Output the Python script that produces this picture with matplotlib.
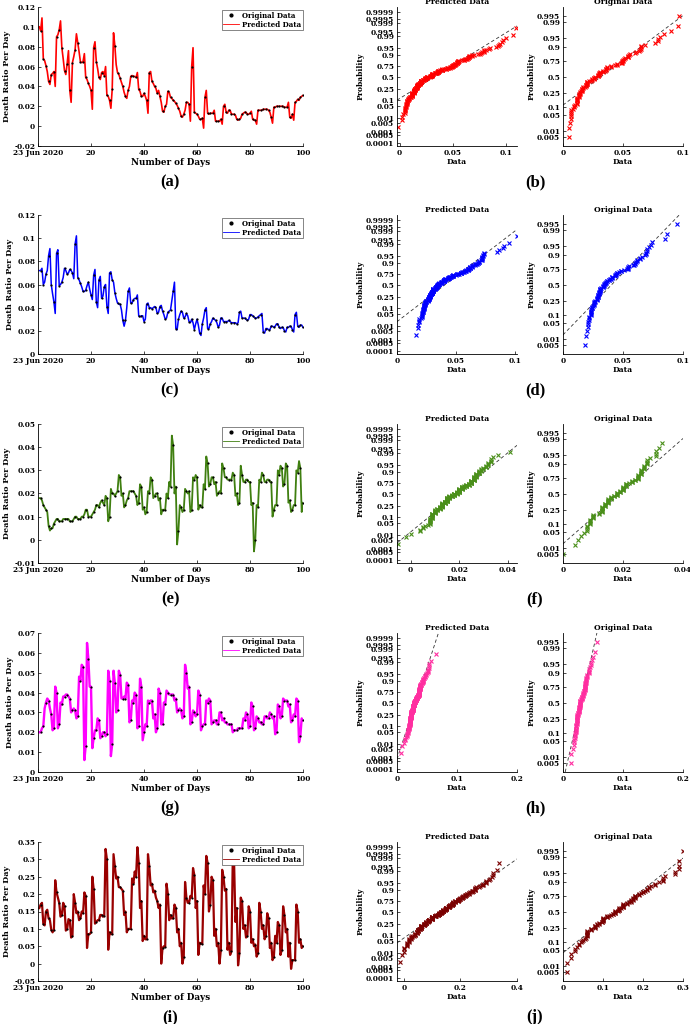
import numpy as np
import matplotlib
matplotlib.use("Agg")
import matplotlib.pyplot as plt
from matplotlib.lines import Line2D
from statistics import NormalDist

days = np.arange(1, 101)

# death ratio per day, original data (one value per day)
orig_a = [0.096, 0.068, 0.061, 0.045, 0.052, 0.055, 0.090, 0.097, 0.079, 0.056,
          0.063, 0.036, 0.064, 0.077, 0.084, 0.065, 0.065, 0.049, 0.043, 0.036,
          0.079, 0.065, 0.049, 0.054, 0.051, 0.031, 0.026, 0.037, 0.081, 0.054,
          0.048, 0.040, 0.030, 0.036, 0.050, 0.050, 0.049, 0.037, 0.030, 0.033,
          0.026, 0.054, 0.045, 0.040, 0.033, 0.030, 0.015, 0.020, 0.035, 0.029,
          0.026, 0.023, 0.018, 0.010, 0.012, 0.024, 0.022, 0.060, 0.014, 0.012,
          0.007, 0.008, 0.029, 0.013, 0.013, 0.013, 0.005, 0.005, 0.007, 0.020,
          0.014, 0.016, 0.012, 0.012, 0.007, 0.007, 0.012, 0.014, 0.012, 0.013,
          0.007, 0.006, 0.016, 0.016, 0.017, 0.017, 0.016, 0.009, 0.019, 0.020,
          0.020, 0.020, 0.019, 0.019, 0.009, 0.012, 0.024, 0.027, 0.029, 0.031]
# predicted data between the days (x = 0.5, 1.5, ..., 99.5)
mid_a = [0.100, 0.109, 0.066, 0.055, 0.042, 0.053, 0.040, 0.092, 0.106, 0.068,
         0.052, 0.076, 0.024, 0.070, 0.093, 0.075, 0.064, 0.073, 0.047, 0.040,
         0.017, 0.085, 0.058, 0.047, 0.055, 0.060, 0.030, 0.018, 0.094, 0.062,
         0.052, 0.044, 0.034, 0.028, 0.040, 0.051, 0.050, 0.054, 0.035, 0.030,
         0.030, 0.013, 0.055, 0.043, 0.038, 0.036, 0.024, 0.014, 0.022, 0.034,
         0.028, 0.025, 0.021, 0.015, 0.009, 0.016, 0.024, 0.005, 0.079, 0.013,
         0.010, 0.007, -0.002, 0.036, 0.012, 0.013, 0.016, 0.005, 0.005, 0.002,
         0.022, 0.013, 0.016, 0.012, 0.011, 0.006, 0.008, 0.013, 0.014, 0.012,
         0.015, 0.006, 0.002, 0.016, 0.016, 0.017, 0.017, 0.014, 0.003, 0.019,
         0.020, 0.020, 0.020, 0.019, 0.024, 0.008, 0.006, 0.025, 0.026, 0.030]

orig_c = [0.072, 0.060, 0.069, 0.085, 0.060, 0.045, 0.087, 0.059, 0.062, 0.074,
          0.069, 0.073, 0.070, 0.095, 0.066, 0.061, 0.054, 0.055, 0.062, 0.051,
          0.068, 0.045, 0.064, 0.048, 0.058, 0.041, 0.070, 0.064, 0.053, 0.044,
          0.043, 0.029, 0.029, 0.054, 0.044, 0.047, 0.048, 0.033, 0.033, 0.028,
          0.043, 0.040, 0.039, 0.041, 0.035, 0.041, 0.037, 0.030, 0.036, 0.038,
          0.054, 0.022, 0.030, 0.037, 0.031, 0.035, 0.028, 0.030, 0.021, 0.030,
          0.018, 0.026, 0.038, 0.022, 0.026, 0.031, 0.029, 0.023, 0.031, 0.028,
          0.028, 0.029, 0.027, 0.027, 0.026, 0.036, 0.031, 0.031, 0.029, 0.034,
          0.033, 0.031, 0.032, 0.034, 0.019, 0.022, 0.021, 0.024, 0.023, 0.026,
          0.023, 0.023, 0.020, 0.023, 0.024, 0.021, 0.034, 0.024, 0.025, 0.023]
mid_c = [0.072, 0.074, 0.062, 0.072, 0.091, 0.052, 0.035, 0.090, 0.060, 0.066,
         0.072, 0.070, 0.072, 0.065, 0.102, 0.064, 0.058, 0.054, 0.059, 0.056,
         0.047, 0.073, 0.040, 0.067, 0.050, 0.060, 0.035, 0.071, 0.062, 0.048,
         0.043, 0.038, 0.024, 0.040, 0.057, 0.044, 0.048, 0.051, 0.032, 0.033,
         0.030, 0.044, 0.040, 0.040, 0.040, 0.036, 0.042, 0.034, 0.031, 0.037,
         0.046, 0.062, 0.021, 0.034, 0.036, 0.032, 0.033, 0.027, 0.027, 0.026,
         0.025, 0.016, 0.031, 0.040, 0.022, 0.028, 0.030, 0.027, 0.025, 0.031,
         0.028, 0.028, 0.028, 0.027, 0.027, 0.027, 0.037, 0.031, 0.030, 0.030,
         0.034, 0.032, 0.031, 0.033, 0.035, 0.018, 0.022, 0.021, 0.024, 0.024,
         0.026, 0.022, 0.023, 0.019, 0.023, 0.024, 0.019, 0.036, 0.023, 0.025]

orig_e = [0.018, 0.015, 0.013, 0.006, 0.005, 0.007, 0.009, 0.008, 0.008, 0.009,
          0.009, 0.008, 0.008, 0.010, 0.009, 0.009, 0.010, 0.013, 0.010, 0.010,
          0.012, 0.015, 0.014, 0.017, 0.015, 0.018, 0.010, 0.020, 0.019, 0.021,
          0.027, 0.020, 0.015, 0.018, 0.021, 0.021, 0.019, 0.016, 0.023, 0.014,
          0.012, 0.020, 0.026, 0.019, 0.020, 0.018, 0.013, 0.013, 0.018, 0.023,
          0.041, 0.023, 0.004, 0.014, 0.013, 0.021, 0.021, 0.013, 0.026, 0.027,
          0.015, 0.014, 0.022, 0.033, 0.024, 0.027, 0.025, 0.020, 0.020, 0.031,
          0.027, 0.026, 0.026, 0.028, 0.020, 0.016, 0.028, 0.025, 0.026, 0.025,
          0.016, 0.000, 0.014, 0.025, 0.028, 0.025, 0.026, 0.025, 0.013, 0.015,
          0.028, 0.031, 0.024, 0.032, 0.017, 0.013, 0.015, 0.029, 0.031, 0.016]
mid_e = [0.018, 0.017, 0.014, 0.012, 0.004, 0.005, 0.008, 0.009, 0.008, 0.009,
         0.009, 0.009, 0.008, 0.009, 0.010, 0.009, 0.010, 0.011, 0.013, 0.010,
         0.011, 0.013, 0.015, 0.016, 0.016, 0.019, 0.008, 0.022, 0.020, 0.020,
         0.028, 0.019, 0.014, 0.017, 0.021, 0.021, 0.020, 0.015, 0.024, 0.013,
         0.011, 0.021, 0.027, 0.018, 0.020, 0.017, 0.011, 0.013, 0.020, 0.025,
         0.045, 0.020, -0.002, 0.015, 0.012, 0.022, 0.020, 0.012, 0.027, 0.028,
         0.013, 0.014, 0.024, 0.036, 0.023, 0.027, 0.024, 0.019, 0.021, 0.033,
         0.027, 0.026, 0.026, 0.029, 0.019, 0.015, 0.032, 0.025, 0.026, 0.025,
         0.015, -0.005, 0.015, 0.026, 0.029, 0.025, 0.026, 0.025, 0.010, 0.015,
         0.030, 0.032, 0.023, 0.033, 0.016, 0.012, 0.015, 0.030, 0.034, 0.012]

orig_g = [0.020, 0.023, 0.035, 0.036, 0.029, 0.022, 0.040, 0.024, 0.034, 0.038,
          0.039, 0.037, 0.031, 0.031, 0.028, 0.046, 0.053, 0.013, 0.057, 0.043,
          0.017, 0.021, 0.026, 0.018, 0.020, 0.019, 0.046, 0.014, 0.045, 0.031,
          0.049, 0.037, 0.037, 0.044, 0.026, 0.035, 0.039, 0.023, 0.043, 0.020,
          0.023, 0.035, 0.036, 0.029, 0.022, 0.040, 0.024, 0.034, 0.040, 0.039,
          0.039, 0.037, 0.031, 0.031, 0.028, 0.050, 0.043, 0.025, 0.030, 0.029,
          0.039, 0.023, 0.024, 0.035, 0.036, 0.025, 0.026, 0.024, 0.030, 0.027,
          0.025, 0.024, 0.024, 0.021, 0.021, 0.022, 0.022, 0.026, 0.029, 0.023,
          0.033, 0.022, 0.027, 0.025, 0.024, 0.028, 0.027, 0.029, 0.028, 0.020,
          0.033, 0.028, 0.036, 0.036, 0.034, 0.026, 0.028, 0.036, 0.018, 0.026]
mid_g = [0.020, 0.022, 0.032, 0.037, 0.032, 0.021, 0.043, 0.022, 0.035, 0.038,
         0.039, 0.038, 0.030, 0.032, 0.027, 0.048, 0.054, 0.006, 0.065, 0.043,
         0.012, 0.021, 0.027, 0.017, 0.020, 0.018, 0.051, 0.008, 0.051, 0.030,
         0.051, 0.037, 0.038, 0.045, 0.025, 0.036, 0.040, 0.022, 0.047, 0.016,
         0.024, 0.036, 0.036, 0.027, 0.020, 0.042, 0.024, 0.035, 0.041, 0.039,
         0.039, 0.036, 0.030, 0.032, 0.027, 0.054, 0.042, 0.024, 0.031, 0.028,
         0.041, 0.021, 0.024, 0.036, 0.037, 0.024, 0.026, 0.024, 0.030, 0.026,
         0.025, 0.024, 0.024, 0.020, 0.021, 0.022, 0.022, 0.027, 0.030, 0.022,
         0.035, 0.021, 0.028, 0.025, 0.024, 0.028, 0.027, 0.030, 0.027, 0.019,
         0.034, 0.027, 0.037, 0.036, 0.033, 0.025, 0.029, 0.037, 0.015, 0.027]

orig_i = [0.170, 0.115, 0.150, 0.130, 0.098, 0.098, 0.205, 0.175, 0.140, 0.165,
          0.100, 0.125, 0.080, 0.175, 0.150, 0.130, 0.145, 0.195, 0.085, 0.090,
          0.215, 0.120, 0.125, 0.140, 0.138, 0.300, 0.090, 0.085, 0.280, 0.250,
          0.220, 0.210, 0.150, 0.100, 0.100, 0.230, 0.250, 0.290, 0.180, 0.080,
          0.070, 0.280, 0.230, 0.210, 0.180, 0.170, 0.045, 0.048, 0.200, 0.140,
          0.130, 0.160, 0.100, 0.060, 0.020, 0.190, 0.175, 0.190, 0.255, 0.180,
          0.060, 0.057, 0.200, 0.290, 0.170, 0.240, 0.100, 0.060, 0.040, 0.250,
          0.215, 0.060, 0.035, 0.290, 0.160, 0.030, 0.180, 0.110, 0.080, 0.150,
          0.070, 0.055, 0.030, 0.150, 0.110, 0.080, 0.130, 0.060, 0.020, 0.060,
          0.110, 0.040, 0.140, 0.100, 0.060, 0.010, 0.010, 0.150, 0.070, 0.050]
mid_i = [0.160, 0.175, 0.110, 0.155, 0.125, 0.090, 0.240, 0.190, 0.135, 0.175,
         0.095, 0.128, 0.075, 0.200, 0.145, 0.125, 0.150, 0.205, 0.045, 0.085,
         0.250, 0.115, 0.125, 0.140, 0.135, 0.330, 0.040, 0.085, 0.315, 0.245,
         0.220, 0.215, 0.140, 0.090, 0.100, 0.245, 0.265, 0.335, 0.160, 0.065,
         0.070, 0.315, 0.225, 0.205, 0.190, 0.160, 0.000, 0.050, 0.230, 0.125,
         0.130, 0.170, 0.090, 0.050, 0.000, 0.235, 0.175, 0.195, 0.275, 0.160,
         0.025, 0.057, 0.225, 0.310, 0.150, 0.250, 0.080, 0.050, 0.000, 0.270,
         0.210, 0.040, 0.025, 0.305, 0.120, -0.005, 0.190, 0.100, 0.075, 0.165,
         0.060, 0.050, 0.020, 0.175, 0.100, 0.070, 0.145, 0.045, 0.010, 0.080,
         0.120, 0.025, 0.165, 0.090, 0.020, -0.015, 0.010, 0.170, 0.060, 0.045]

line_colors = ['#ff0000', '#0000ff', '#3f7f10', '#ff00ff', '#990000']
line_widths = [1.2, 1.1, 1.3, 1.7, 1.6]
prob_colors = ['#ff0000', '#0000ff', '#4a8f1a', '#ff2ea0', '#7a0000']
left_ylims = [(-0.02, 0.12), (0, 0.12), (-0.01, 0.05), (0, 0.07), (-0.05, 0.35)]
left_ysteps = [0.02, 0.02, 0.01, 0.01, 0.05]
pred_xlims = [(-0.0025, 0.110), (0, 0.102), (-0.0056, 0.0438), (0, 0.2), (-0.024, 0.4)]
pred_xticks = [[0, 0.05, 0.1], [0, 0.05, 0.1], [0, 0.02, 0.04], [0, 0.1, 0.2], [0, 0.2, 0.4]]
orig_xlims = [(0, 0.1), (0, 0.1), (0, 0.04), (0, 0.2), (0, 0.3)]
orig_xticks = [[0, 0.05, 0.1], [0, 0.05, 0.1], [0, 0.02, 0.04], [0, 0.1, 0.2], [0, 0.1, 0.2, 0.3]]
panel_left = ['(a)', '(c)', '(e)', '(g)', '(i)']
panel_right = ['(b)', '(d)', '(f)', '(h)', '(j)']

pred_probs = ['0.0001', '0.0005', '0.001', '0.005', '0.01', '0.05', '0.1', '0.25', '0.5',
              '0.75', '0.9', '0.95', '0.99', '0.995', '0.999', '0.9995', '0.9999']
orig_probs = ['0.005', '0.01', '0.05', '0.1', '0.25', '0.5', '0.75', '0.9', '0.95', '0.99', '0.995']

series = [(orig_a, mid_a), (orig_c, mid_c), (orig_e, mid_e), (orig_g, mid_g), (orig_i, mid_i)]

nd = NormalDist()
tfont = dict(family='DejaVu Serif', weight='bold', size=5.3)


def fmt(v):
    v = round(v, 6)
    return '0' if v == 0 else f'{v:g}'


def predicted(orig, mid):
    x = np.empty(200)
    y = np.empty(200)
    x[0::2] = days - 0.5
    x[1::2] = days
    y[0::2] = mid
    y[1::2] = orig
    return x, y


def style(ax):
    ax.spines['top'].set_visible(False)
    ax.spines['right'].set_visible(False)
    ax.tick_params(direction='in', length=2, width=0.5, pad=2)
    for s in ax.spines.values():
        s.set_linewidth(0.6)
    for lab in ax.get_xticklabels() + ax.get_yticklabels():
        lab.set_fontproperties(tfont)


def normplot(ax, data, color, probs, ylim, xlim, xticks, title):
    d = np.sort(np.asarray(data))
    n = len(d)
    z = [nd.inv_cdf((k - 0.5) / n) for k in range(1, n + 1)]
    q1, q3 = np.percentile(d, [25, 75])
    ax.axline((q1, nd.inv_cdf(0.25)), (q3, nd.inv_cdf(0.75)), color='#333333',
              ls=(0, (4, 3)), lw=0.6)
    ax.plot(d, z, 'x', color=color, ms=2.6, mew=0.8)
    ax.set_xlim(*xlim)
    ax.set_ylim(*ylim)
    ax.set_xticks(xticks)
    ax.set_xticklabels([fmt(t) for t in xticks])
    ax.set_yticks([nd.inv_cdf(float(p)) for p in probs])
    ax.set_yticklabels(probs)
    ax.set_title(title, fontdict=dict(family='DejaVu Serif', weight='bold', size=5.5), pad=2)
    ax.set_xlabel('Data', family='DejaVu Serif', weight='bold', size=5.5, labelpad=1)
    ax.set_ylabel('Probability', family='DejaVu Serif', weight='bold', size=5.5, labelpad=1)
    style(ax)


W, H = 690, 1024
fig = plt.figure(figsize=(W / 100, H / 100), dpi=100)
tops = [7, 215, 424, 633, 842]
ah = 139

for r, (orig, mid) in enumerate(series):
    top = tops[r]
    y0 = 1 - (top + ah) / H
    # time series panel
    ax = fig.add_axes([38 / W, y0, 265 / W, ah / H])
    px, py = predicted(orig, mid)
    ax.plot(px, py, '-', color=line_colors[r], lw=line_widths[r])
    ax.plot(days, orig, 'o', color='k', ms=1.6, mew=0)
    lo, hi = left_ylims[r]
    st = left_ysteps[r]
    yt = np.arange(lo, hi + st / 2, st)
    ax.set_ylim(lo, hi)
    ax.set_yticks(yt)
    ax.set_yticklabels([fmt(v) for v in yt])
    ax.set_xlim(0, 100)
    ax.set_xticks([0, 20, 40, 60, 80, 100])
    ax.set_xticklabels(['23 Jun 2020', '20', '40', '60', '80', '100'])
    ax.set_xlabel('Number of Days', family='DejaVu Serif', weight='bold', size=6.3, labelpad=1)
    ax.set_ylabel('Death Ratio Per Day', family='DejaVu Serif', weight='bold', size=5.8, labelpad=2)
    style(ax)
    handles = [Line2D([], [], marker='o', ls='none', color='k', ms=2),
               Line2D([], [], color=line_colors[r], lw=0.6)]
    leg = ax.legend(handles, ['Original Data', 'Predicted Data'], loc='upper right',
                    bbox_to_anchor=(1.0, 0.98), prop=dict(family='DejaVu Serif', weight='bold', size=5),
                    fancybox=False, edgecolor='#555555', framealpha=1, borderpad=0.25,
                    handlelength=2.2, handletextpad=0.5, labelspacing=0.15, borderaxespad=0)
    leg.get_frame().set_linewidth(0.5)

    # normal probability plots
    ax1 = fig.add_axes([397 / W, y0, 120 / W, ah / H])
    normplot(ax1, py, prob_colors[r], pred_probs, (-3.9, 4.0), pred_xlims[r],
             pred_xticks[r], 'Predicted Data')
    ax2 = fig.add_axes([563 / W, y0, 120 / W, ah / H])
    normplot(ax2, orig, prob_colors[r], orig_probs, (-2.96, 2.98), orig_xlims[r],
             orig_xticks[r], 'Original Data')

    ylab = 1 - (top + 175) / H
    fig.text(170 / W, ylab, panel_left[r], ha='center', va='center',
             family='Liberation Serif', weight='bold', size=12)
    fig.text(535 / W, ylab, panel_right[r], ha='center', va='center',
             family='Liberation Serif', weight='bold', size=12)

fig.savefig('out.png', dpi=100)
